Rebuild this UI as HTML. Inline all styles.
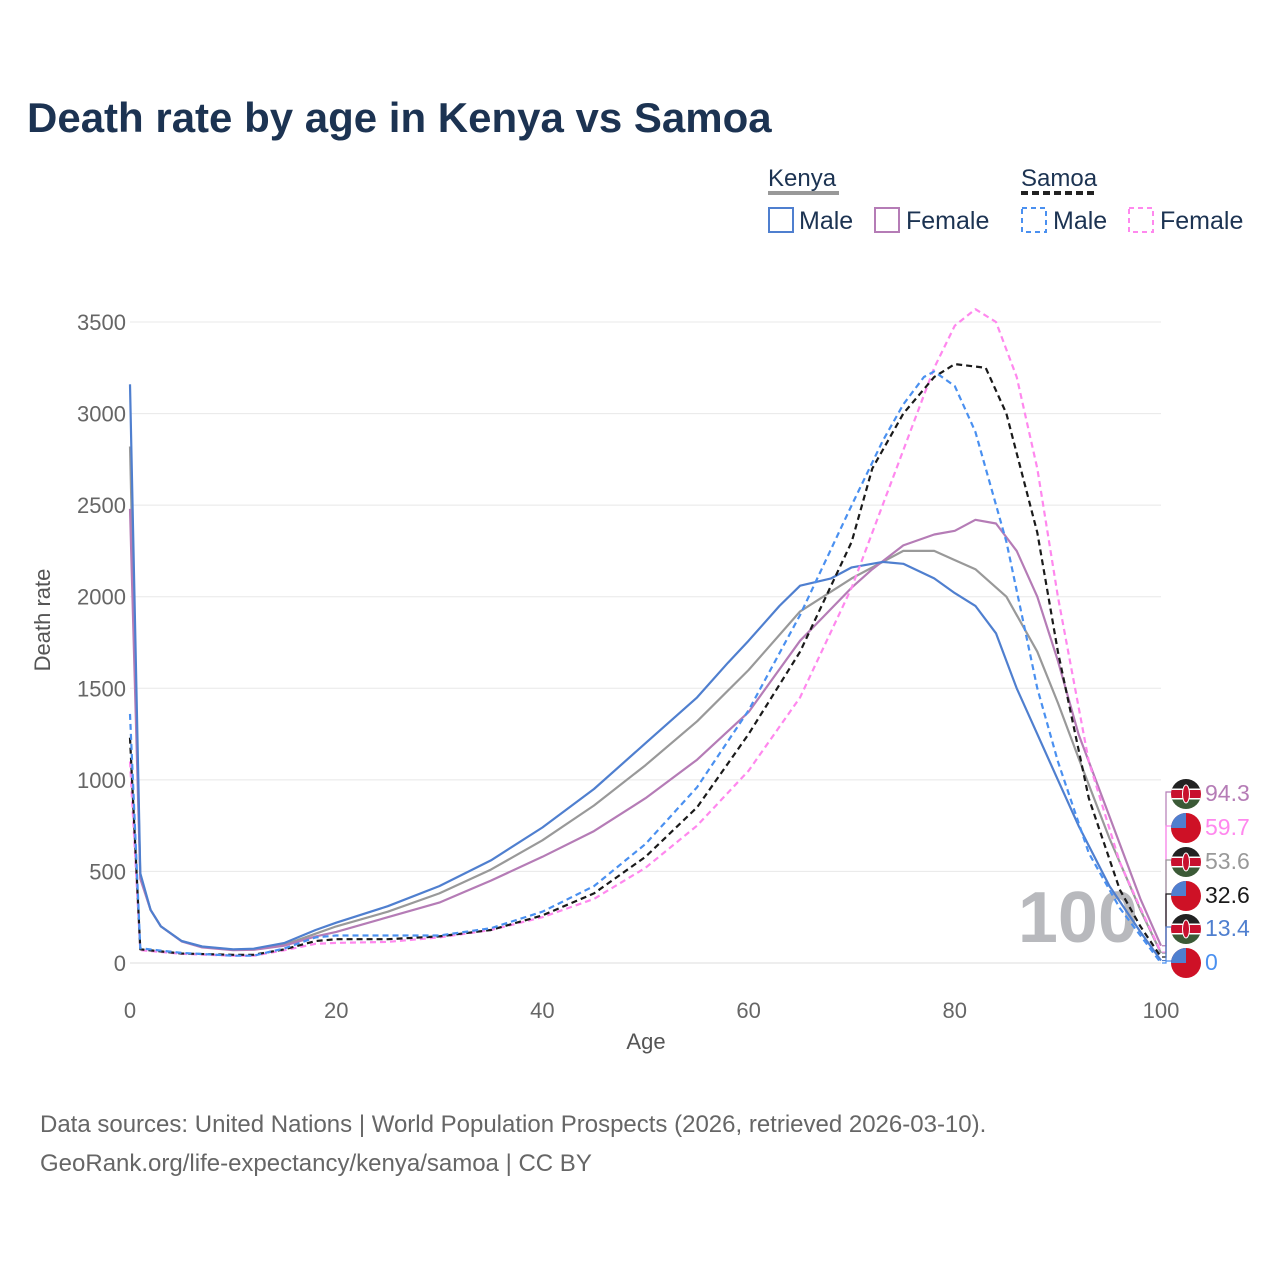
<!DOCTYPE html>
<html><head><meta charset="utf-8">
<style>
body{margin:0;background:#fff;width:1280px;height:1280px;overflow:hidden;font-family:"Liberation Sans",sans-serif}
</style></head>
<body>
<svg id="chart" width="1280" height="1280" xmlns="http://www.w3.org/2000/svg" font-family="Liberation Sans, sans-serif">
<text x="27" y="132" font-size="42" font-weight="bold" fill="#1c3352">Death rate by age in Kenya vs Samoa</text>
<g font-size="25" fill="#1c3352">
<text x="768" y="186" font-size="24">Kenya</text>
<line x1="768" y1="193" x2="839" y2="193" stroke="#999" stroke-width="4"/>
<text x="1021" y="186" font-size="24">Samoa</text>
<line x1="1021" y1="193" x2="1097" y2="193" stroke="#222" stroke-width="4" stroke-dasharray="7,4"/>
<g><rect x="769" y="208" width="24" height="24" fill="none" stroke="#4f7fcf" stroke-width="2"/><text x="799" y="229">Male</text></g>
<g><rect x="875" y="208" width="24" height="24" fill="none" stroke="#b57cb6" stroke-width="2"/><text x="906" y="229">Female</text></g>
<g><rect x="1022" y="208" width="24" height="24" fill="none" stroke="#4a90f0" stroke-width="2" stroke-dasharray="5,4"/><text x="1053" y="229">Male</text></g>
<g><rect x="1129" y="208" width="24" height="24" fill="none" stroke="#ff88ee" stroke-width="2" stroke-dasharray="5,4"/><text x="1160" y="229">Female</text></g>
</g>
<g id="grid"></g>
<text x="1138" y="942" text-anchor="end" font-size="72" font-weight="bold" fill="#b8b9bd">100</text>
<g id="series"></g>
<g id="axes"></g>
<g id="endlabels"></g>
<text transform="translate(50,620) rotate(-90)" text-anchor="middle" font-size="22" fill="#555">Death rate</text>
<text x="646" y="1049" text-anchor="middle" font-size="22" fill="#555">Age</text>
<text x="40" y="1132" font-size="24" fill="#666">Data sources: United Nations | World Population Prospects (2026, retrieved 2026-03-10).</text>
<text x="40" y="1171" font-size="24" fill="#666">GeoRank.org/life-expectancy/kenya/samoa | CC BY</text>
</svg>
<script>
const xTicks=[0,20,40,60,80,100];
const yTicks=[0,500,1000,1500,2000,2500,3000,3500];
const kmAges=[0,1,2,3,5,7,10,12,15,18,20,25,30,35,40,45,50,55,58,60,63,65,68,70,73,75,78,80,82,84,86,88,90,92,95,98,100];
const kmVals=[3160,490,290,200,120,90,75,78,110,180,220,310,420,560,740,950,1200,1450,1640,1760,1950,2060,2100,2160,2190,2180,2100,2020,1950,1800,1500,1250,1000,750,420,170,13.4];
const ktAges=[0,1,2,3,5,7,10,12,15,18,20,25,30,35,40,45,50,55,60,65,70,75,78,80,82,85,88,90,92,95,98,100];
const ktVals=[2820,470,290,200,120,88,73,75,100,160,200,280,380,510,670,860,1080,1320,1600,1920,2100,2250,2250,2200,2150,2000,1700,1420,1120,680,290,53.6];
const kfAges=[0,1,2,3,5,7,10,12,15,18,20,25,30,35,40,45,50,55,60,65,70,72,75,78,80,82,84,86,88,90,92,95,98,100];
const kfVals=[2480,460,290,200,118,85,70,72,95,145,170,250,330,450,580,720,900,1110,1370,1760,2050,2150,2280,2340,2360,2420,2400,2250,2000,1650,1250,800,350,94.3];
const smAges=[0,1,5,10,12,15,18,20,25,30,35,40,45,50,55,60,65,70,73,75,77,78,80,82,85,88,90,93,96,98,100];
const smVals=[1360,80,55,40,40,80,140,150,150,150,190,280,420,650,960,1380,1900,2500,2850,3050,3200,3230,3150,2900,2300,1500,1100,600,300,150,0];
const stAges=[0,1,5,10,12,15,18,20,25,30,35,40,45,50,55,60,65,70,72,75,78,80,83,85,88,90,93,96,98,100];
const stVals=[1230,75,52,45,45,75,120,130,130,145,180,260,380,580,850,1250,1700,2300,2700,3000,3200,3270,3250,3000,2350,1700,900,400,200,32.6];
const sfAges=[0,1,5,10,12,15,18,20,25,30,35,40,45,50,55,60,65,70,72,75,78,80,82,84,86,88,90,93,96,98,100];
const sfVals=[1100,70,50,40,40,70,105,110,115,140,180,250,350,520,750,1050,1450,2050,2350,2800,3250,3480,3570,3500,3200,2700,2000,1100,550,300,59.7];
const X=a=>130+a*10.31, Y=v=>963-v*0.18314;
const NS="http://www.w3.org/2000/svg";
function mk(tag,attrs,parent){const e=document.createElementNS(NS,tag);for(const k in attrs)e.setAttribute(k,attrs[k]);parent.appendChild(e);return e;}
const grid=document.getElementById('grid'), axes=document.getElementById('axes');
yTicks.forEach(v=>{
 const l=mk('line',{x1:130,x2:1161,y1:Y(v),y2:Y(v),stroke:v===0?'#ddd':'#e8e8e8','stroke-width':1},grid);
 
 
 const t=mk('text',{x:126,y:Y(v)+8,'text-anchor':'end','font-size':22,fill:'#666'},axes);
 t.textContent=v;
 
 
});
xTicks.forEach(a=>{
 const t=mk('text',{x:X(a),y:1018,'text-anchor':'middle','font-size':22,fill:'#666'},axes);
 t.textContent=a;
 
 
});
const series=[
 ['kenya-total',ktAges,ktVals,'#999',''],
 ['kenya-female',kfAges,kfVals,'#b57cb6',''],
 ['kenya-male',kmAges,kmVals,'#4f7fcf',''],
 ['samoa-female',sfAges,sfVals,'#ff88ee','6,4'],
 ['samoa-total',stAges,stVals,'#1a1a1a','6,4'],
 ['samoa-male',smAges,smVals,'#4a90f0','6,4']];
const sg=document.getElementById('series');
series.forEach(s=>{
 const d=s[1].map((a,i)=>(i?'L':'M')+X(a).toFixed(1)+','+Y(s[2][i]).toFixed(1)).join('');
 const p=mk('path',{d:d,fill:'none',stroke:s[3],'stroke-width':2.2,'stroke-dasharray':s[4],'stroke-linejoin':'round'},sg);
 
 
});
const labels=[['94.3','#b57cb6','k',792],['59.7','#ff88ee','s',826],['53.6','#999','k',860],['32.6','#1a1a1a','s',894],['13.4','#4f7fcf','k',927],['0','#4a90f0','s',961]];
const eg=document.getElementById('endlabels');
labels.forEach(l=>{
 const v=parseFloat(l[0]);
 mk('path',{d:`M1162,${Y(v)}H1166V${l[3]}H1172`,fill:'none',stroke:l[1],'stroke-width':1.2},eg);
 const cx=1186,cy=l[3]+2;
 const g=mk('g',{},eg);
 
 
 if(l[2]==='k'){
  mk('clipPath',{id:'c'+cy},g);
  const cp=g.lastChild;mk('circle',{cx:cx,cy:cy,r:15},cp);
  const gg=mk('g',{'clip-path':`url(#c${cy})`},g);
  mk('rect',{x:cx-15,y:cy-15,width:30,height:10,fill:'#222'},gg);
  mk('rect',{x:cx-15,y:cy-5,width:30,height:10,fill:'#c8102e'},gg);
  mk('rect',{x:cx-15,y:cy+5,width:30,height:10,fill:'#3b5a36'},gg);
  mk('rect',{x:cx-15,y:cy-5.5,width:30,height:1.5,fill:'#fff'},gg);
  mk('rect',{x:cx-15,y:cy+4,width:30,height:1.5,fill:'#fff'},gg);
  mk('ellipse',{cx:cx,cy:cy,rx:3.5,ry:9,fill:'#c8102e',stroke:'#fff','stroke-width':1},gg);
 } else {
  mk('circle',{cx:cx,cy:cy,r:15,fill:'#ce1126'},g);
  mk('path',{d:`M${cx},${cy}V${cy-15}A15,15 0 0 0 ${cx-15},${cy}Z`,fill:'#4f7fcf'},g);
 }
 const t=mk('text',{x:1205,y:l[3]+9,'font-size':23,fill:l[1]},eg);
 t.textContent=l[0];
 
 
});
</script>
</body></html>
